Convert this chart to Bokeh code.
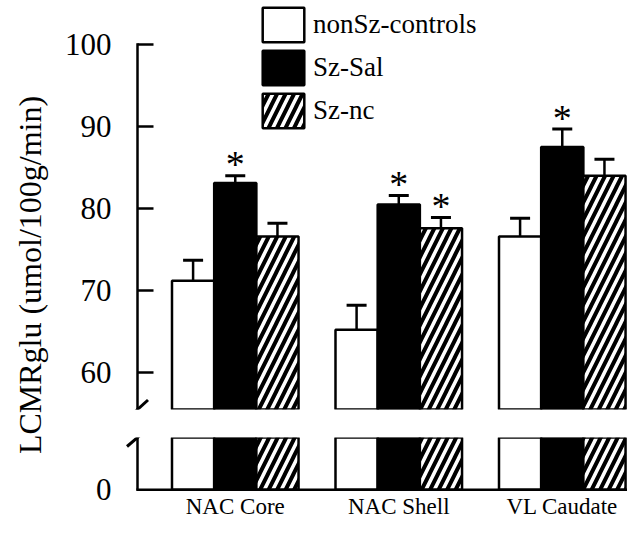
import math
from bokeh.plotting import figure
from bokeh.models import (Range1d, FixedTicker, Whisker, TeeHead, Legend,
                          LegendItem, ColumnDataSource, Label)
from bokeh.layouts import column, row
from bokeh.embed import file_html
from bokeh.resources import INLINE
from bokeh.core.properties import value

# ---------------- data ----------------
regions = ["NAC Core", "NAC Shell", "VL Caudate"]
groups = ["nonSz-controls", "Sz-Sal", "Sz-nc"]
nonsz_mean = [71.2, 65.2, 76.6]
nonsz_sem = [2.5, 3.0, 2.2]
szsal_mean = [83.1, 80.5, 87.5]
szsal_sem = [0.9, 1.1, 2.2]
sznc_mean = [76.6, 77.6, 84.0]
sznc_sem = [1.6, 1.3, 2.0]
nonsz_sig = [0, 0, 0]
szsal_sig = [1, 1, 1]
sznc_sig = [0, 1, 0]
upper_ticks = [60, 70, 80, 90, 100]
lower_ticks = [0]
y_label = "LCMRglu (umol/100g/min)"

means = [nonsz_mean, szsal_mean, sznc_mean]
sems = [nonsz_sem, szsal_sem, sznc_sem]
sigs = [nonsz_sig, szsal_sig, sznc_sig]

# ---------------- layout / style ----------------
FONT = "Liberation Serif"
BAR_W = 0.258
offsets = [-BAR_W, 0.0, BAR_W]
styles = [
    dict(fill_color="white"),
    dict(fill_color="black"),
    dict(fill_color="white", hatch_pattern="/", hatch_color="black",
         hatch_scale=17, hatch_weight=4),
]
LW = 50               # width of the strip holding the y-axis title
TOTAL_W, TOTAL_H = 627, 521
W = TOTAL_W - LW
PX_X = 163.5          # pixels per category unit
PX_Y = 8.2            # pixels per y unit
FRAME_L = 125         # frame left edge (page px)
AXIS_L = 137          # y-axis position (page px)
X_AXIS = -0.598
X_START = X_AXIS - (AXIS_L - FRAME_L) / PX_X
X_END = X_START + (TOTAL_W - FRAME_L) / PX_X
TICK_LEN = 16 / PX_X

TOP_PAD = 44          # pixels from frame top down to the 100 tick
UP_FRAME = 409        # upper frame height
UP_END = upper_ticks[-1] + TOP_PAD / PX_Y
UP_START = UP_END - UP_FRAME / PX_Y
LO_TOP_GAP = 14
LO_FRAME = 58
LO_START = -3 / PX_Y
LO_END = LO_START + LO_FRAME / PX_Y
H1 = 423
H2 = TOTAL_H - H1

up = figure(width=W, height=H1, x_range=Range1d(X_START, X_END),
            y_range=Range1d(UP_START, UP_END), x_axis_location=None,
            title=None, output_backend="svg", toolbar_location=None,
            min_border_left=FRAME_L - LW, min_border_right=0,
            min_border_top=0, min_border_bottom=H1 - UP_FRAME)
lo = figure(width=W, height=H2, x_range=up.x_range,
            y_range=Range1d(LO_START, LO_END), title=None,
            output_backend="svg", toolbar_location=None,
            min_border_left=FRAME_L - LW, min_border_right=0,
            min_border_top=LO_TOP_GAP,
            min_border_bottom=H2 - LO_TOP_GAP - LO_FRAME)

for p in (up, lo):
    p.grid.visible = False
    p.outline_line_color = None
    p.background_fill_color = "white"
    p.border_fill_color = "white"

renderers = []
for g in range(3):
    src = ColumnDataSource(dict(
        x=[i + offsets[g] for i in range(len(regions))],
        top=means[g],
        err_top=[m + s for m, s in zip(means[g], sems[g])],
    ))
    r = up.vbar(x="x", top="top", bottom=0, width=BAR_W, line_color="black",
                line_width=2.5, source=src, **styles[g])
    lo.vbar(x="x", top="top", bottom=0, width=BAR_W, line_color="black",
            line_width=2.5, source=src, **styles[g])
    renderers.append(r)
    up.add_layout(Whisker(source=src, base="x", lower="top", upper="err_top",
                          dimension="height", line_width=2.5, line_color="black",
                          upper_head=TeeHead(size=20, line_width=3, line_color="black"),
                          lower_head=None))

# significance asterisks
ax, ay = [], []
for g in range(3):
    for i in range(len(regions)):
        if sigs[g][i]:
            ax.append(i + offsets[g])
            ay.append(means[g][i] + sems[g][i] + 2.1)
up.text(x=ax, y=ay, text=["*"] * len(ax), text_font=value(FONT),
        text_font_size="38px", text_align="center", text_baseline="alphabetic",
        y_offset=6, text_color="black")

# legend
legend = Legend(items=[LegendItem(label=groups[g], renderers=[renderers[g]]) for g in range(3)],
                location=(257 - FRAME_L, 277), orientation="vertical",
                glyph_width=52, glyph_height=43, spacing=0, label_standoff=4,
                padding=0, margin=0, border_line_color=None,
                background_fill_alpha=0, label_text_font=FONT,
                label_text_font_size="27px", label_text_color="black",
                label_height=43)
up.add_layout(legend)

# y axes: labels from bokeh, lines / ticks drawn at the axis position
for p, ticks in ((up, upper_ticks), (lo, lower_ticks)):
    a = p.yaxis[0]
    a.ticker = FixedTicker(ticks=ticks)
    a.axis_line_color = None
    a.major_tick_line_color = None
    a.minor_tick_line_color = None
    a.major_tick_in = 0
    a.major_tick_out = 0
    a.major_label_text_font = FONT
    a.major_label_text_font_size = "31px"
    a.major_label_text_color = "black"
    a.major_label_standoff = 14

# upper axis line + inward ticks
up.segment(x0=[X_AXIS], y0=[UP_START], x1=[X_AXIS], y1=[upper_ticks[-1]],
           line_width=2.5, line_color="black", line_cap="square")
up.segment(x0=[X_AXIS] * len(upper_ticks), y0=upper_ticks,
           x1=[X_AXIS + TICK_LEN] * len(upper_ticks), y1=upper_ticks,
           line_width=2.5, line_color="black")
# lower axis line and baseline
lo.segment(x0=[X_AXIS], y0=[lower_ticks[0]], x1=[X_AXIS], y1=[LO_END],
           line_width=2.5, line_color="black")
lo.segment(x0=[X_AXIS], y0=[lower_ticks[0]], x1=[X_END], y1=[lower_ticks[0]],
           line_width=2.5, line_color="black", line_cap="square")

# x axis labels
xa = lo.xaxis[0]
xa.ticker = FixedTicker(ticks=list(range(len(regions))))
xa.major_label_overrides = {i: regions[i] for i in range(len(regions))}
xa.major_tick_in = 0
xa.major_tick_out = 0
xa.major_tick_line_color = None
xa.minor_tick_line_color = None
xa.axis_line_color = None
xa.major_label_text_font = FONT
xa.major_label_text_font_size = "23px"
xa.major_label_text_color = "black"
xa.major_label_standoff = 1

# axis break marks
dx, dy = 10.5 / PX_X, 9.5 / PX_Y
up.segment(x0=[X_AXIS - dx], y0=[UP_START - dy], x1=[X_AXIS + dx],
           y1=[UP_START + dy], line_width=3, line_color="black")
lo.segment(x0=[X_AXIS - dx], y0=[LO_END - dy], x1=[X_AXIS + dx],
           y1=[LO_END + dy], line_width=3, line_color="black")

# strip with the y-axis title (spans both panels)
lab = figure(width=LW, height=TOTAL_H, x_range=Range1d(0, LW),
             y_range=Range1d(0, TOTAL_H), x_axis_location=None,
             y_axis_location=None, title=None, output_backend="svg",
             toolbar_location=None, min_border=0)
lab.grid.visible = False
lab.outline_line_color = None
lab.background_fill_color = "white"
lab.border_fill_color = "white"
lab.add_layout(Label(x=29.5, y=TOTAL_H - 274.5, text=y_label,
                     angle=math.pi / 2, text_align="center",
                     text_baseline="middle", text_font=FONT,
                     text_font_size="32px", text_color="black"))

layout = row(lab, column(up, lo))
open("out.html", "w").write(file_html(layout, INLINE))
